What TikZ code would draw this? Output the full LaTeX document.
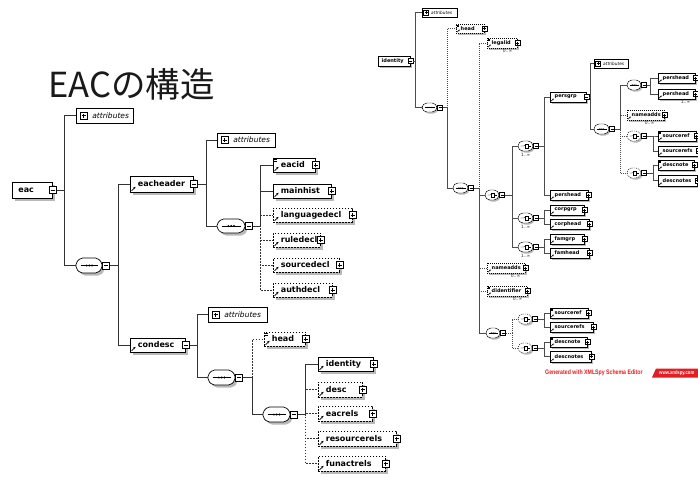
\documentclass[tikz,border=0pt]{standalone}
\usepackage{fontspec}
\newfontfamily\lab{DejaVu Sans}
\newfontfamily\cjk{Noto Sans CJK JP}
\newfontfamily\ftr[FakeStretch=0.8]{Liberation Sans}
\usetikzlibrary{shadows,arrows.meta}
\definecolor{xsred}{RGB}{225,30,35}
\definecolor{shd}{RGB}{185,185,185}

\newcommand\EL[7][]{%
  \pgfmathsetmacro\elw{#5-#3}\pgfmathsetmacro\elh{#6-#4}\pgfmathsetmacro\elyc{(#4+#6)/2}%
  \node[#1,text width=\elw pt,minimum height=\elh pt] (#2) at (#3,\elyc) {#7};}
% compositor: #1 draw opts, #2 name, #3 x1, #4 y1, #5 x2, #6 y2, #7 chamfer, #8 shadow offset
\newcommand\COMP[8][]{%
  \pgfmathsetmacro\elw{#5-#3}\pgfmathsetmacro\elh{#6-#4}\pgfmathsetmacro\elyc{(#4+#6)/2}%
  \node[inner sep=0pt, minimum width=\elw pt, minimum height=\elh pt, anchor=west] (#2) at (#3,\elyc) {};
  \fill[shd, rounded corners=2pt, xshift=#8, yshift=-#8] (#3+#7,#4) -- (#5-#7,#4) -- (#5,#4+#7) -- (#5,#6-#7) -- (#5-#7,#6) -- (#3+#7,#6) -- (#3,#6-#7) -- (#3,#4+#7) -- cycle;
  \draw[fill=white, rounded corners=2pt, #1] (#3+#7,#4) -- (#5-#7,#4) -- (#5,#4+#7) -- (#5,#6-#7) -- (#5-#7,#6) -- (#3+#7,#6) -- (#3,#6-#7) -- (#3,#4+#7) -- cycle;}
\newcommand\SEQL[6][]{\COMP[draw=black,line width=0.7pt,#1]{#2}{#3}{#4}{#5}{#6}{4.5}{2.5pt}%
  \draw[line width=0.7pt] ([xshift=4.5pt]#2.west) -- ([xshift=-4.5pt]#2.east);
  \fill ([xshift=-2.8pt]#2.center) circle[radius=1.1pt] (#2.center) circle[radius=1.1pt] ([xshift=2.8pt]#2.center) circle[radius=1.1pt];}
\newcommand\SEQR[6][]{\COMP[draw=black,line width=0.45pt,#1]{#2}{#3}{#4}{#5}{#6}{3}{1.5pt}%
  \draw[line width=0.45pt] ([xshift=2.8pt]#2.west) -- ([xshift=-2.8pt]#2.east);
  \fill ([xshift=-1.8pt]#2.center) circle[radius=0.7pt] (#2.center) circle[radius=0.7pt] ([xshift=1.8pt]#2.center) circle[radius=0.7pt];}
\newcommand\CHOR[6][]{\COMP[draw=black,line width=0.45pt,#1]{#2}{#3}{#4}{#5}{#6}{3}{1.5pt}%
  \draw[line width=0.4pt] ([xshift=2.5pt]#2.west) -- ([xshift=-2pt]#2.center) -- ([shift={(0.9pt,1.5pt)}]#2.center);
  \draw[line width=0.4pt] ([shift={(-1pt,-2pt)}]#2.center) rectangle ([shift={(2.2pt,2pt)}]#2.center);
  \draw[line width=0.4pt] ([xshift=2.2pt]#2.center) -- ([xshift=-2.5pt]#2.east);}
\newcommand\BT[2][]{\node[#1] (#2-b) at (#2.east) {};}
\newcommand\BTC[2][]{\node[#1, anchor=west] (#2-b) at (#2.east) {};}
\newcommand\CN[4][]{\draw[#1] (#2-b.east) -- (#2-b.east -| #3) |- (#4.west);}

\tikzset{
  lnL/.style={draw=black!80, line width=0.7pt},
  lnR/.style={draw=black!70, line width=0.45pt},
  dsh/.style={dash pattern=on 1.6pt off 1.4pt},
  dshR/.style={dash pattern=on 1pt off 1pt},
  shL/.style={drop shadow={shadow xshift=2.5pt,shadow yshift=-2.5pt,fill=shd,opacity=1}},
  shR/.style={drop shadow={shadow xshift=1.5pt,shadow yshift=-1.5pt,fill=shd,opacity=1}},
  elbaseL/.style={draw=black, line width=0.7pt, fill=white, shL, anchor=west, inner xsep=0pt, inner ysep=0pt, align=left, font=\lab\bfseries\fontsize{8}{9}\selectfont},
  elrootL/.style={elbaseL, execute at begin node={\hspace*{6pt}}},
  elL/.style={elbaseL, execute at begin node={\hspace*{7.5pt}},
    path picture={\draw[solid,line width=0.6pt,-{Stealth[length=2.4pt,width=2.4pt]}] ([shift={(1.2pt,1.2pt)}]path picture bounding box.south west) -- ++(4pt,4pt);}},
  elbaseR/.style={draw=black, line width=0.45pt, fill=white, shR, anchor=west, inner xsep=0pt, inner ysep=0pt, align=left, font=\lab\bfseries\fontsize{5}{6}\selectfont},
  elrootR/.style={elbaseR, execute at begin node={\hspace*{3.5pt}}},
  elR/.style={elbaseR, execute at begin node={\hspace*{4.5pt}},
    path picture={\draw[solid,line width=0.4pt,-{Stealth[length=1.6pt,width=1.6pt]}] ([shift={(0.8pt,0.8pt)}]path picture bounding box.south west) -- ++(2.6pt,2.6pt);}},
  attrL/.style={draw=black, line width=0.7pt, fill=white, anchor=west, inner xsep=0pt, inner ysep=0pt, align=left, font=\lab\itshape\fontsize{7.5}{9}\selectfont, execute at begin node={\hspace*{16pt}}},
  attrR/.style={draw=black, line width=0.45pt, fill=white, anchor=west, inner xsep=0pt, inner ysep=0pt, align=left, font=\lab\itshape\fontsize{4.3}{5}\selectfont, execute at begin node={\hspace*{9pt}}},
  btnL/.style={draw=black, solid, line width=0.6pt, fill=white, minimum size=7pt, inner sep=0pt},
  plusL/.style={btnL, path picture={\draw[line width=0.6pt] ([xshift=1.5pt]path picture bounding box.west) -- ([xshift=-1.5pt]path picture bounding box.east) ([yshift=1.5pt]path picture bounding box.south) -- ([yshift=-1.5pt]path picture bounding box.north);}},
  minusL/.style={btnL, path picture={\draw[line width=0.6pt] ([xshift=1.5pt]path picture bounding box.west) -- ([xshift=-1.5pt]path picture bounding box.east);}},
  btnR/.style={draw=black, solid, line width=0.4pt, fill=white, minimum size=5pt, inner sep=0pt},
  plusR/.style={btnR, path picture={\draw[line width=0.4pt] ([xshift=1pt]path picture bounding box.west) -- ([xshift=-1pt]path picture bounding box.east) ([yshift=1pt]path picture bounding box.south) -- ([yshift=-1pt]path picture bounding box.north);}},
  minusR/.style={btnR, path picture={\draw[line width=0.4pt] ([xshift=1pt]path picture bounding box.west) -- ([xshift=-1pt]path picture bounding box.east);}},
  occR/.style={font=\lab\fontsize{4.5}{5}\selectfont, inner sep=0pt, text=black!80},
  mk/.style={line width=0.45pt}
}

\begin{document}
\begin{tikzpicture}[x=1pt,y=-1pt]
\fill[white] (0,0) rectangle (698,483);
\useasboundingbox (0,0) rectangle (698,483);

% title
\node[anchor=base west, inner sep=0pt, text=black!90, font=\cjk\fontsize{34.5}{40}\selectfont] (title) at (48,97) {EACの構造};

% ---------------- LEFT DIAGRAM ----------------
\EL[elrootL]{eac}{12}{182}{52}{198}{eac} \BT[minusL]{eac}
\EL[attrL]{attr1}{76}{108}{133}{123}{attributes}
\node[plusL] (attr1-p) at ([xshift=7.5pt]attr1.west) {};
\SEQL{seq1}{76}{258}{102}{273} \BTC[minusL]{seq1}
\EL[elL]{eacheader}{130}{176}{193}{192}{eacheader} \BT[minusL]{eacheader}
\EL[elL]{condesc}{130}{338}{185}{352}{condesc} \BT[minusL]{condesc}
\EL[attrL]{attr2}{217}{133}{275}{147}{attributes}
\node[plusL] (attr2-p) at ([xshift=7.5pt]attr2.west) {};
\SEQL{seq2}{217}{219}{245}{233} \BTC[minusL]{seq2}
\EL[elL]{eacid}{273}{158}{315}{172}{eacid} \BT[plusL]{eacid}
\EL[elL]{mainhist}{273}{184}{331}{198}{mainhist} \BT[plusL]{mainhist}
\EL[elL,dsh]{languagedecl}{273}{208}{352}{222}{languagedecl} \BT[plusL]{languagedecl}
\EL[elL,dsh]{ruledecl}{273}{233}{320}{247}{ruledecl} \BT[plusL]{ruledecl}
\EL[elL,dsh]{sourcedecl}{273}{258}{339}{272}{sourcedecl} \BT[plusL]{sourcedecl}
\EL[elL,dsh]{authdecl}{273}{283}{332}{297}{authdecl} \BT[plusL]{authdecl}
\EL[attrL]{attr3}{208}{307}{267}{322}{attributes}
\node[plusL] (attr3-p) at ([xshift=7.5pt]attr3.west) {};
\SEQL{seq3}{208}{370}{235}{385} \BTC[minusL]{seq3}
\EL[elL,dsh]{head}{264}{332}{305}{346}{head} \BT[plusL]{head}
\SEQL{seq4}{263}{407}{290}{422} \BTC[minusL]{seq4}
\EL[elL]{identity}{318}{357}{373}{371}{identity} \BT[plusL]{identity}
\EL[elL,dsh]{desc}{318}{382}{362}{397}{desc} \BT[plusL]{desc}
\EL[elL,dsh]{eacrels}{318}{406}{372}{421}{eacrels} \BT[plusL]{eacrels}
\EL[elL,dsh]{resourcerels}{318}{431}{396}{446}{resourcerels} \BT[plusL]{resourcerels}
\EL[elL,dsh]{funactrels}{318}{456}{385}{471}{funactrels} \BT[plusL]{funactrels}

\draw[mk] ([shift={(1pt,-2pt)}]eacid.north west) -- ++(3pt,0) ([shift={(1pt,-3.6pt)}]eacid.north west) -- ++(3pt,0);
\draw[mk] ([shift={(1pt,-2pt)}]head.north west) -- ++(3pt,0) ([shift={(1pt,-3.6pt)}]head.north west) -- ++(3pt,0);

\coordinate (b1) at (64,0);
\CN[lnL]{eac}{b1}{attr1} \CN[lnL]{eac}{b1}{seq1}
\coordinate (b2) at (118,0);
\CN[lnL]{seq1}{b2}{eacheader} \CN[lnL]{seq1}{b2}{condesc}
\coordinate (b3) at (206,0);
\CN[lnL]{eacheader}{b3}{attr2} \CN[lnL]{eacheader}{b3}{seq2}
\coordinate (b4) at (260,0);
\CN[lnL,dsh]{seq2}{b4}{languagedecl} \CN[lnL,dsh]{seq2}{b4}{ruledecl}
\CN[lnL,dsh]{seq2}{b4}{sourcedecl} \CN[lnL,dsh]{seq2}{b4}{authdecl}
\CN[lnL]{seq2}{b4}{eacid} \CN[lnL]{seq2}{b4}{mainhist}
\coordinate (b5) at (197,0);
\CN[lnL]{condesc}{b5}{attr3} \CN[lnL]{condesc}{b5}{seq3}
\coordinate (b6) at (252,0);
\CN[lnL,dsh]{seq3}{b6}{head} \CN[lnL]{seq3}{b6}{seq4}
\coordinate (b7) at (305,0);
\CN[lnL,dsh]{seq4}{b7}{desc} \CN[lnL,dsh]{seq4}{b7}{eacrels}
\CN[lnL,dsh]{seq4}{b7}{resourcerels} \CN[lnL,dsh]{seq4}{b7}{funactrels}
\CN[lnL]{seq4}{b7}{identity}

% ---------------- RIGHT DIAGRAM ----------------
\EL[elrootR]{ridentity}{378}{56}{410}{66}{identity} \BT[minusR]{ridentity}
\EL[attrR]{rattr0}{422}{8}{457}{17}{attributes}
\node[plusR] (rattr0-p) at ([xshift=4pt]rattr0.west) {};
\SEQR{rseqA}{422}{103}{437}{112} \BTC[minusR]{rseqA}
\EL[elR,dshR]{rhead}{456}{24}{484}{33}{head} \BT[plusR]{rhead}
\SEQR{rseqB}{453}{183}{468}{193} \BTC[minusR]{rseqB}
\EL[elR,dshR]{rlegalid}{487}{38}{517}{48}{legalid} \BT[plusR]{rlegalid}
\CHOR{rchD}{485}{190}{499}{200} \BTC[minusR]{rchD}
\EL[elR,dshR]{rnameadds}{487}{263}{525}{273}{nameadds} \BT[plusR]{rnameadds}
\EL[elR,dshR]{rdid}{487}{286}{527}{296}{didentifier} \BT[plusR]{rdid}
\SEQR{rseqK}{486}{328}{500}{338} \BTC[minusR]{rseqK}
\CHOR{rchE}{518}{141}{533}{151} \BTC[minusR]{rchE}
\CHOR{rchI}{518}{213}{533}{223} \BTC[minusR]{rchI}
\CHOR{rchJ}{518}{242}{533}{252} \BTC[minusR]{rchJ}
\EL[elR]{rpersgrp}{550}{92}{586}{102}{persgrp} \BT[minusR]{rpersgrp}
\EL[elR]{rpershead}{550}{190}{588}{200}{pershead} \BT[plusR]{rpershead}
\EL[attrR]{rattrP}{594}{59}{628}{68}{attributes}
\node[plusR] (rattrP-p) at ([xshift=4pt]rattrP.west) {};
\SEQR{rseqP}{594}{124}{609}{134} \BTC[minusR]{rseqP}
\SEQR{rseqF}{627}{80}{641}{90} \BTC[minusR]{rseqF}
\EL[elR,dshR]{rnameadds2}{627}{110}{664}{120}{nameadds} \BT[plusR]{rnameadds2}
\CHOR[dshR]{rchG}{627}{131}{641}{141} \BTC[minusR]{rchG}
\CHOR[dshR]{rchH}{627}{168}{641}{178} \BTC[minusR]{rchH}
\EL[elR]{rpershA}{658}{73}{695}{83}{pershead} \BT[plusR]{rpershA}
\EL[elR]{rpershB}{658}{89}{695}{99}{pershead} \BT[plusR]{rpershB}
\EL[elR]{rsref}{658}{131}{696}{141}{sourceref} \BT[plusR]{rsref}
\EL[elR]{rsrefs}{658}{146}{698}{156}{sourcerefs} \BT[plusR]{rsrefs}
\EL[elR]{rdnote}{658}{160}{694}{170}{descnote} \BT[plusR]{rdnote}
\EL[elR]{rdnotes}{658}{175}{697}{186}{descnotes} \BT[plusR]{rdnotes}
\EL[elR]{rcorpgrp}{550}{205}{584}{215}{corpgrp} \BT[plusR]{rcorpgrp}
\EL[elR]{rcorphead}{550}{219}{589}{229}{corphead} \BT[plusR]{rcorphead}
\EL[elR]{rfamgrp}{550}{234}{584}{244}{famgrp} \BT[plusR]{rfamgrp}
\EL[elR]{rfamhead}{550}{248}{589}{258}{famhead} \BT[plusR]{rfamhead}
\CHOR[dshR]{rchL}{518}{314}{532}{324} \BTC[minusR]{rchL}
\CHOR[dshR]{rchM}{518}{343}{532}{353} \BTC[minusR]{rchM}
\EL[elR]{rsref2}{550}{308}{588}{318}{sourceref} \BT[plusR]{rsref2}
\EL[elR]{rsrefs2}{550}{322}{593}{332}{sourcerefs} \BT[plusR]{rsrefs2}
\EL[elR]{rdnote2}{550}{337}{587}{347}{descnote} \BT[plusR]{rdnote2}
\EL[elR]{rdnotes2}{550}{351}{591}{362}{descnotes} \BT[plusR]{rdnotes2}

\foreach \n in {rhead,rlegalid,rdid,rsref,rdnote,rsref2,rdnote2}
  \draw[line width=0.35pt] ([shift={(0.7pt,-1.2pt)}]\n.north west) -- ++(2pt,0) ([shift={(0.7pt,-2.2pt)}]\n.north west) -- ++(2pt,0);

% occurrences
\node[occR, anchor=north east] (rlegalid-o) at ([shift={(-5pt,-1pt)}]rlegalid.south east) {0..∞};
\node[occR, anchor=north east] (rnameadds-o) at ([shift={(-5pt,-1pt)}]rnameadds.south east) {0..∞};
\node[occR, anchor=north east] (rdid-o) at ([shift={(-5pt,-1pt)}]rdid.south east) {0..∞};
\node[occR, anchor=north east] (rnameadds2-o) at ([shift={(-10pt,-1pt)}]rnameadds2.south east) {0..∞};
\node[occR, anchor=north east] (rpershB-o) at ([shift={(-5pt,-1pt)}]rpershB.south east) {1..∞};
\node[occR, anchor=north] (rchE-o) at ([shift={(0pt,-1.5pt)}]rchE.south) {1..∞};
\node[occR, anchor=north] (rchI-o) at ([shift={(0pt,-1.5pt)}]rchI.south) {1..∞};
\node[occR, anchor=north] (rchJ-o) at ([shift={(0pt,-1.5pt)}]rchJ.south) {1..∞};

\coordinate (r1) at (415,0);
\CN[lnR]{ridentity}{r1}{rattr0} \CN[lnR]{ridentity}{r1}{rseqA}
\coordinate (r2) at (447,0);
\CN[lnR,dshR]{rseqA}{r2}{rhead} \CN[lnR]{rseqA}{r2}{rseqB}
\coordinate (r3) at (479,0);
\CN[lnR,dshR]{rseqB}{r3}{rlegalid} \CN[lnR,dshR]{rseqB}{r3}{rnameadds} \CN[lnR,dshR]{rseqB}{r3}{rdid}
\CN[lnR]{rseqB}{r3}{rchD} \CN[lnR]{rseqB}{r3}{rseqK}
\coordinate (r4) at (512,0);
\CN[lnR]{rchD}{r4}{rchE} \CN[lnR]{rchD}{r4}{rchI} \CN[lnR]{rchD}{r4}{rchJ}
\coordinate (r5) at (544,0);
\CN[lnR]{rchE}{r5}{rpersgrp} \CN[lnR]{rchE}{r5}{rpershead}
\coordinate (r6) at (590,0);
\CN[lnR]{rpersgrp}{r6}{rattrP} \CN[lnR]{rpersgrp}{r6}{rseqP}
\coordinate (r7) at (620,0);
\CN[lnR,dshR]{rseqP}{r7}{rnameadds2} \CN[lnR,dshR]{rseqP}{r7}{rchG} \CN[lnR,dshR]{rseqP}{r7}{rchH}
\CN[lnR]{rseqP}{r7}{rseqF}
\coordinate (r8) at (650,0);
\CN[lnR]{rseqF}{r8}{rpershA} \CN[lnR]{rseqF}{r8}{rpershB}
\coordinate (r9) at (653,0);
\CN[lnR]{rchG}{r9}{rsref} \CN[lnR]{rchG}{r9}{rsrefs}
\CN[lnR]{rchH}{r9}{rdnote} \CN[lnR]{rchH}{r9}{rdnotes}
\coordinate (r10) at (544,0);
\CN[lnR]{rchI}{r10}{rcorpgrp} \CN[lnR]{rchI}{r10}{rcorphead}
\CN[lnR]{rchJ}{r10}{rfamgrp} \CN[lnR]{rchJ}{r10}{rfamhead}
\coordinate (r11) at (512,0);
\CN[lnR,dshR]{rseqK}{r11}{rchL} \CN[lnR,dshR]{rseqK}{r11}{rchM}
\coordinate (r12) at (544,0);
\CN[lnR]{rchL}{r12}{rsref2} \CN[lnR]{rchL}{r12}{rsrefs2}
\CN[lnR]{rchM}{r12}{rdnote2} \CN[lnR]{rchM}{r12}{rdnotes2}

% footer
\node[anchor=west, inner sep=0pt, text=xsred, font=\ftr\bfseries\fontsize{6.5}{7}\selectfont] (gen) at (545,373) {Generated with XMLSpy Schema Editor};
\fill[xsred] (656,368.5) -- (700,368.5) -- (700,377.5) -- (652,377.5) -- cycle;
\node[anchor=west, inner sep=0pt, text=white, font=\ftr\bfseries\fontsize{5.3}{6}\selectfont] (url) at (659,373) {www.xmlspy.com};
\end{tikzpicture}
\end{document}
